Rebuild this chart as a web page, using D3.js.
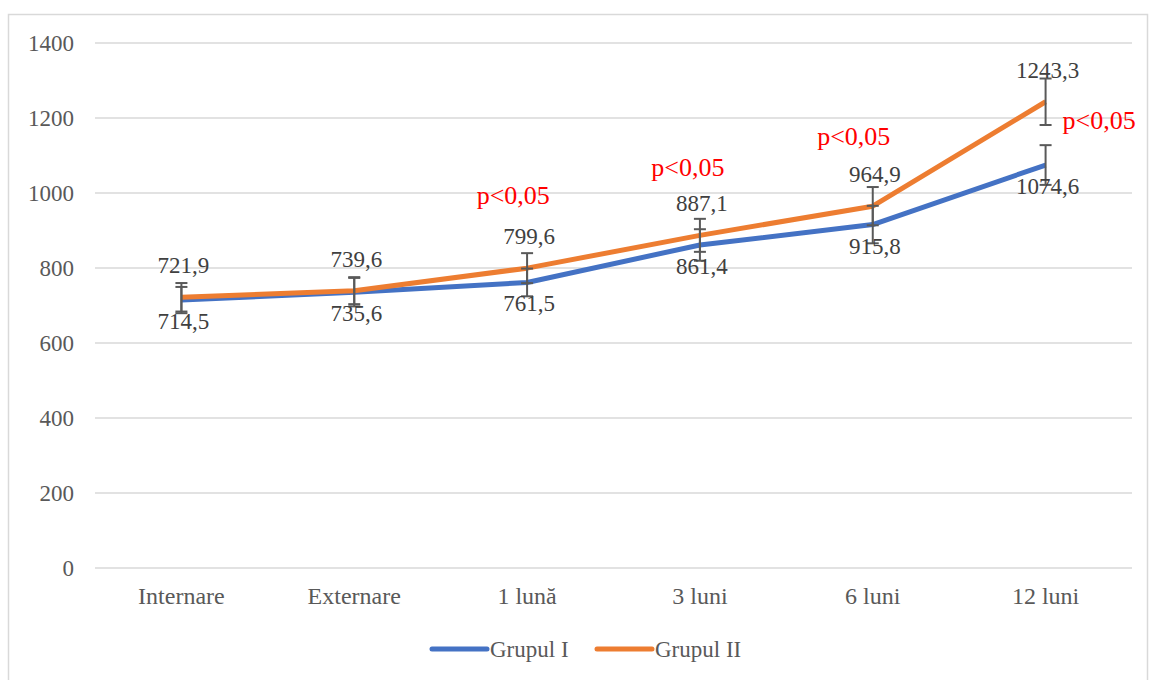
<!DOCTYPE html>
<html>
<head>
<meta charset="utf-8">
<script src="https://cdn.jsdelivr.net/npm/d3@7"></script>
<style>
  body { margin: 0; background: #fff; }
  text { font-family: "Liberation Serif", "Times New Roman", serif; }
</style>
</head>
<body>
<svg id="chart"></svg>
<script>
// data
var categories = ["Internare", "Externare", "1 lună", "3 luni", "6 luni", "12 luni"];
var grupulI = [714.5, 735.6, 761.5, 861.4, 915.8, 1074.6];
var grupulII = [721.9, 739.6, 799.6, 887.1, 964.9, 1243.3];
var errI = [35, 38, 37, 42, 50, 53];
var errII = [38, 36, 40, 44, 51, 62];
var yTicks = [0, 200, 400, 600, 800, 1000, 1200, 1400];
// significance notes: category, height in data units, shift in bands
var notes = ["1 lună", "3 luni", "6 luni", "12 luni"];
var noteY = [995, 1069, 1152, 1195];
var noteShift = [-0.08, -0.07, -0.11, 0.31];

var screen = {width: 1149, height: 680};
var margins = {top: 43, left: 95, right: 17, bottom: 112};
var graph = {width: screen.width - margins.left - margins.right,
             height: screen.height - margins.top - margins.bottom};

var svg = d3.select("#chart")
    .attr("width", screen.width)
    .attr("height", screen.height);

// outer chart border
svg.append("rect")
    .attr("x", 8.5).attr("y", 14.5)
    .attr("width", 1139).attr("height", 680)
    .attr("fill", "none")
    .attr("stroke", "#d9d9d9")
    .attr("stroke-width", 1.5);

var xScale = d3.scaleBand()
    .domain(categories)
    .range([0, graph.width]);
var yScale = d3.scaleLinear()
    .domain([0, 1400])
    .range([graph.height, 0]);

var g = svg.append("g")
    .attr("transform", "translate(" + margins.left + "," + margins.top + ")");

// gridlines
g.append("g")
    .selectAll("line")
    .data(yTicks)
    .enter()
    .append("line")
    .attr("x1", 0).attr("x2", graph.width)
    .attr("y1", function(d){ return yScale(d); })
    .attr("y2", function(d){ return yScale(d); })
    .attr("stroke", "#d9d9d9")
    .attr("stroke-width", 1.5);

// y axis labels
var yAxis = d3.axisLeft(yScale).tickValues(yTicks).tickFormat(d3.format("d"))
    .tickSize(0).tickPadding(21);
g.append("g")
    .call(yAxis)
    .call(function(a){ a.select(".domain").remove(); })
    .selectAll("text")
    .attr("font-size", "23px")
    .attr("fill", "#595959")
    .style("font-family", "Liberation Serif, serif");

// x axis labels
var xAxis = d3.axisBottom(xScale).tickSize(0).tickPadding(19);
g.append("g")
    .attr("transform", "translate(0," + graph.height + ")")
    .call(xAxis)
    .call(function(a){ a.select(".domain").remove(); })
    .selectAll("text")
    .attr("font-size", "24px")
    .attr("fill", "#595959")
    .style("font-family", "Liberation Serif, serif");

var cx = function(i){ return xScale(categories[i]) + xScale.bandwidth() / 2; };

var linegen = d3.line()
    .x(function(d, i){ return cx(i); })
    .y(function(d){ return yScale(d); });

var series = [
    {name: "Grupul I", values: grupulI, err: errI, color: "#4472c4", dy: 21},
    {name: "Grupul II", values: grupulII, err: errII, color: "#ed7d31", dy: -32}
];

series.forEach(function(s){
    g.append("path")
        .datum(s.values)
        .attr("d", linegen)
        .attr("fill", "none")
        .attr("stroke", s.color)
        .attr("stroke-width", 5)
        .attr("stroke-linejoin", "round");
});

// error bars
series.forEach(function(s){
    var eb = g.append("g");
    s.values.forEach(function(v, i){
        var x = cx(i), lo = yScale(v - s.err[i]), hi = yScale(v + s.err[i]);
        eb.append("line").attr("x1", x).attr("x2", x).attr("y1", lo).attr("y2", hi)
            .attr("stroke", "#595959").attr("stroke-width", 2);
        [lo, hi].forEach(function(y){
            eb.append("line").attr("x1", x - 6).attr("x2", x + 6).attr("y1", y).attr("y2", y)
                .attr("stroke", "#595959").attr("stroke-width", 2);
        });
    });
});

// data labels
series.forEach(function(s){
    g.append("g")
        .selectAll("text")
        .data(s.values)
        .enter()
        .append("text")
        .attr("x", function(d, i){ return cx(i) + 2; })
        .attr("y", function(d){ return yScale(d) + s.dy; })
        .attr("dy", "0.35em")
        .attr("text-anchor", "middle")
        .attr("font-size", "23px")
        .attr("fill", "#404040")
        .text(function(d){ return d.toFixed(1).replace(".", ","); });
});

// significance notes
g.append("g")
    .selectAll("text")
    .data(notes)
    .enter()
    .append("text")
    .attr("x", function(d, i){ return xScale(d) + xScale.bandwidth() * (0.5 + noteShift[i]); })
    .attr("y", function(d, i){ return yScale(noteY[i]); })
    .attr("dy", "0.35em")
    .attr("text-anchor", "middle")
    .attr("font-size", "26px")
    .attr("fill", "#ff0000")
    .text("p<0,05");

// legend
var legend = svg.append("g").attr("transform", "translate(432,649)");
var items = legend.selectAll("g")
    .data(series)
    .enter()
    .append("g")
    .attr("transform", function(d, i){ return "translate(" + (i * 165) + ",0)"; });
items.append("line")
    .attr("x1", 0).attr("x2", 55)
    .attr("y1", 0).attr("y2", 0)
    .attr("stroke", function(d){ return d.color; })
    .attr("stroke-width", 5)
    .attr("stroke-linecap", "round");
items.append("text")
    .attr("x", 58)
    .attr("dy", "0.35em")
    .attr("font-size", "23px")
    .attr("fill", "#595959")
    .text(function(d){ return d.name; });
</script>
</body>
</html>
